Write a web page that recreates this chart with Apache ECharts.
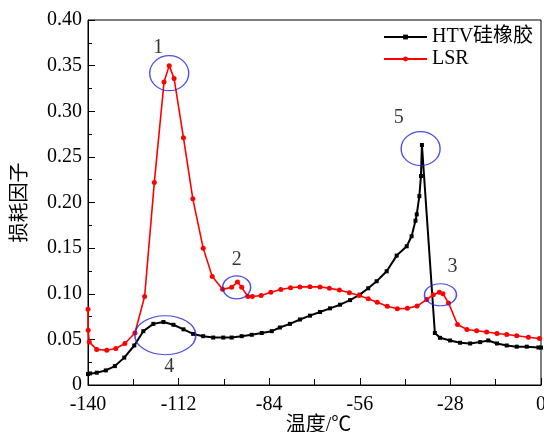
<!DOCTYPE html>
<html>
<head>
<meta charset="utf-8">
<script src="https://cdn.jsdelivr.net/npm/echarts@6/dist/echarts.min.js"></script>
<style>
html,body{margin:0;padding:0;background:#fff;}
#chart{width:544px;height:432px;}
</style>
</head>
<body>
<div id="chart"></div>
<script>
// ---- data ----
const seriesNames = ['HTV硅橡胶', 'LSR'];
const xTicks = [-140, -112, -84, -56, -28, 0];
const yTicks = [0, 0.05, 0.10, 0.15, 0.20, 0.25, 0.30, 0.35, 0.40];

const htvX = [-140, -139.4, -137.3, -134.5, -131.7, -128.8, -125.7, -122.9, -119.8, -116.7, -113.6, -110.5, -107.5, -104.4, -101.3, -98.2, -95.6, -92.5, -89.4, -86.3, -83.2, -80.7, -77.6, -74.5, -71.4, -68.3, -65.2, -62.1, -59.0, -56.0, -53.4, -50.8, -47.7, -44.6, -41.5, -40.0, -38.8, -38.4, -37.6, -37.1, -36.8, -32.8, -31.2, -28.1, -25.0, -21.9, -18.8, -16.3, -13.6, -10.6, -7.5, -4.4, -0.8, 0];
const htvY = [0.012, 0.0127, 0.0135, 0.016, 0.0207, 0.030, 0.0433, 0.059, 0.067, 0.069, 0.066, 0.061, 0.056, 0.0535, 0.052, 0.052, 0.052, 0.0535, 0.055, 0.057, 0.059, 0.063, 0.067, 0.0718, 0.076, 0.080, 0.084, 0.088, 0.093, 0.099, 0.106, 0.1137, 0.1246, 0.1418, 0.152, 0.163, 0.180, 0.187, 0.207, 0.229, 0.263, 0.057, 0.0517, 0.0488, 0.0463, 0.0455, 0.047, 0.0488, 0.0455, 0.0433, 0.042, 0.042, 0.0411, 0.041];

const lsrX = [-140, -139.95, -139.6, -137.3, -134.2, -131.4, -128.6, -125.5, -122.5, -119.5, -116.5, -114.9, -113.4, -110.5, -107.6, -104.4, -101.6, -98.4, -95.6, -93.8, -92.5, -90.6, -89.2, -86.5, -83.5, -80.4, -77.4, -74.5, -71.4, -68.3, -65.4, -62.3, -59.2, -56.2, -53.4, -50.6, -47.5, -44.4, -41.3, -38.3, -35.3, -33.3, -31.4, -30.3, -28.6, -25.8, -22.9, -19.9, -16.8, -13.6, -10.6, -7.5, -3.9, -0.5];
const lsrY = [0.083, 0.060, 0.047, 0.039, 0.038, 0.040, 0.0455, 0.057, 0.097, 0.222, 0.332, 0.350, 0.336, 0.271, 0.204, 0.150, 0.119, 0.105, 0.107, 0.113, 0.107, 0.097, 0.097, 0.098, 0.1017, 0.1046, 0.1065, 0.1075, 0.1077, 0.1075, 0.106, 0.104, 0.101, 0.098, 0.0944, 0.0907, 0.0863, 0.0835, 0.0840, 0.0865, 0.0937, 0.099, 0.1017, 0.100, 0.090, 0.0663, 0.0608, 0.0594, 0.058, 0.0565, 0.0554, 0.054, 0.0524, 0.051];

// annotation marks (data-space centres and their labels)
const annoLabels = ['1', '2', '3', '4', '5'];
const annoX = [-114.9, -94.05, -31.07, -116.1, -37.2];
const annoY = [0.3417, 0.107, 0.0989, 0.0546, 0.259];
// annotation layout (pixels)
const annoSizes = [[39, 35], [28, 23], [32, 22], [61, 39], [39, 34]];
const annoLabelOffsets = [[-11, -25], [0, -28], [12, -28], [4, 32], [-22, -31]];

// ---- chart ----
const serif = '"Liberation Serif", "Times New Roman", "Noto Sans CJK SC", serif';
const cjk = '"Liberation Serif", "Noto Sans CJK SC", serif';

const pairs = (xs, ys) => xs.map((x, i) => [x, ys[i]]);

const chart = echarts.init(document.getElementById('chart'), null, {renderer: 'canvas'});
chart.setOption({
  animation: false,
  backgroundColor: '#fff',
  grid: {left: 88, right: 3, top: 20, bottom: 47, show: true, borderColor: '#000', borderWidth: 1,
    backgroundColor: 'transparent', containLabel: false, outerBoundsMode: 'none'},
  legend: {
    data: seriesNames,
    orient: 'vertical',
    left: 378, top: 22,
    itemWidth: 43, itemHeight: 6, itemGap: 2,
    textStyle: {fontFamily: cjk, fontSize: 20, color: '#000'}
  },
  xAxis: {
    type: 'value',
    min: xTicks[0], max: xTicks[xTicks.length - 1], interval: xTicks[1] - xTicks[0],
    name: '温度/℃', nameLocation: 'middle', nameGap: 31, nameMoveOverlap: false,
    nameTextStyle: {fontFamily: cjk, fontSize: 20, color: '#000', padding: [0, 0, 0, 8]},
    axisLine: {onZero: false, lineStyle: {color: '#000', width: 1}},
    axisTick: {inside: true, length: 7, lineStyle: {color: '#000'}},
    minorTick: {show: true, splitNumber: 2, length: 6, lineStyle: {color: '#000'}},
    splitLine: {show: false},
    axisLabel: {fontFamily: serif, fontSize: 20, color: '#000', margin: 10, formatter: v => String(v)}
  },
  yAxis: {
    type: 'value',
    min: yTicks[0], max: yTicks[yTicks.length - 1], interval: 0.05,
    name: '损耗因子', nameLocation: 'middle', nameGap: 57, nameMoveOverlap: false,
    nameTextStyle: {fontFamily: cjk, fontSize: 20, color: '#000'},
    axisLine: {show: true, onZero: false, lineStyle: {color: '#000', width: 1}},
    axisTick: {inside: true, length: 7, lineStyle: {color: '#000'}},
    minorTick: {show: true, splitNumber: 2, length: 4, lineStyle: {color: '#000'}},
    splitLine: {show: false},
    axisLabel: {fontFamily: serif, fontSize: 20, color: '#000', margin: 6,
      formatter: v => (v === 0 ? '0' : v.toFixed(2))}
  },
  series: [
    {
      name: seriesNames[0], type: 'line', data: pairs(htvX, htvY),
      symbol: 'rect', symbolSize: 4, showAllSymbol: true,
      lineStyle: {color: '#000', width: 2}, itemStyle: {color: '#000'}, z: 2
    },
    {
      name: seriesNames[1], type: 'line', data: pairs(lsrX, lsrY),
      symbol: 'circle', symbolSize: 5, showAllSymbol: true,
      lineStyle: {color: '#ff0000', width: 1.6}, itemStyle: {color: '#ff0000'}, z: 3
    },
    {
      name: 'annotations', type: 'scatter', silent: true, z: 5,
      data: annoX.map((x, i) => ({
        value: [x, annoY[i]],
        symbolSize: annoSizes[i],
        label: {show: true, formatter: annoLabels[i], position: 'inside', offset: annoLabelOffsets[i]}
      })),
      symbol: 'circle',
      itemStyle: {color: 'rgba(0,0,0,0)', borderColor: '#2323dc', borderWidth: 1.3},
      label: {fontFamily: serif, fontSize: 20, color: '#000'}
    }
  ]
});
</script>
</body>
</html>
